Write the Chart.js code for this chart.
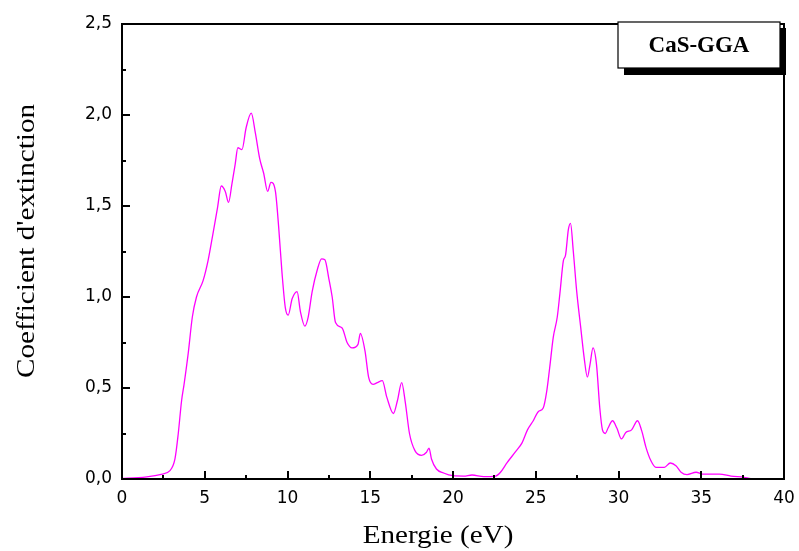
<!DOCTYPE html>
<html>
<head>
  <title>Coefficient d'extinction CaS-GGA</title>
  <style>
    html, body { margin: 0; padding: 0; background: #fff; }
    #wrap { width: 799px; height: 551px; }
  </style>
</head>
<body>
<div id="wrap">
  <canvas id="extChart"></canvas>
</div>

<script src="https://cdn.jsdelivr.net/npm/chart.js"></script>
<script>
  // energie (eV) et coefficient d'extinction k
  const energy = [0, 1, 1.5, 2, 2.3, 2.9, 3.2, 3.4, 3.6, 3.75, 4.0, 4.25, 4.5, 4.9, 5.2, 5.5, 5.77, 6.0, 6.24, 6.44,
    6.64, 6.84, 7.0, 7.25, 7.5, 7.81, 8.06, 8.32, 8.56, 8.8, 9.0, 9.27, 9.47, 9.67, 9.87, 10.04, 10.28, 10.58, 10.78, 11.05,
    11.25, 11.49, 11.8, 12.06, 12.26, 12.5, 12.7, 12.9, 13.3, 13.6, 13.9, 14.26, 14.4, 14.68, 14.9, 15.17, 15.43, 15.73, 16.0, 16.4,
    16.64, 16.9, 17.12, 17.37, 17.7, 18.1, 18.4, 18.55, 18.7, 19.0, 19.43, 20.0, 20.65, 21.15, 21.86, 22.57, 22.87, 23.27, 23.78, 24.18,
    24.5, 24.85, 25.15, 25.45, 25.66, 25.84, 26.06, 26.3, 26.46, 26.67, 26.8, 26.97, 27.1, 27.27, 27.47, 27.72, 27.92, 28.12, 28.28, 28.46,
    28.67, 28.87, 29.03, 29.2, 29.37, 29.64, 29.9, 30.18, 30.44, 30.79, 31.15, 31.4, 31.66, 31.96, 32.26, 32.77, 33.13, 33.47, 33.78, 34.14,
    34.69, 35.09, 36.1, 36.8, 37.6, 38.0, 40];
  const kValues = [0.003, 0.008, 0.012, 0.018, 0.024, 0.046, 0.11, 0.25, 0.43, 0.52, 0.69, 0.89, 1.0, 1.09, 1.2, 1.35, 1.49, 1.61, 1.58, 1.52,
    1.62, 1.73, 1.82, 1.81, 1.93, 2.01, 1.90, 1.76, 1.68, 1.58, 1.63, 1.58, 1.38, 1.13, 0.94, 0.90, 0.99, 1.03, 0.92, 0.84,
    0.89, 1.03, 1.15, 1.21, 1.205, 1.10, 1.0, 0.86, 0.83, 0.75, 0.72, 0.74, 0.80, 0.705, 0.56, 0.52, 0.53, 0.54, 0.45, 0.36,
    0.43, 0.53, 0.42, 0.25, 0.156, 0.13, 0.147, 0.17, 0.11, 0.055, 0.033, 0.018, 0.016, 0.022, 0.013, 0.016, 0.037, 0.09, 0.15, 0.20,
    0.27, 0.32, 0.37, 0.39, 0.48, 0.61, 0.78, 0.89, 1.02, 1.2, 1.23, 1.37, 1.405, 1.25, 1.035, 0.83, 0.67, 0.56, 0.63, 0.72,
    0.63, 0.39, 0.27, 0.25, 0.28, 0.32, 0.28, 0.22, 0.256, 0.27, 0.32, 0.266, 0.174, 0.10, 0.064, 0.064, 0.088, 0.073, 0.037, 0.024,
    0.037, 0.027, 0.027, 0.016, 0.009, 0.002, 0];

  const xMin = 0, xMax = 40, xStep = 5;
  const yMin = 0, yMax = 2.5, yStep = 0.5;
  const seriesName = 'CaS-GGA';
  const xTitle = 'Energie (eV)';
  const yTitle = "Coefficient d'extinction";

  const points = energy.map((e, i) => ({ x: e, y: kValues[i] }));

  const serif = '"Liberation Serif", "Times New Roman", serif';

  // texte serif un peu elargi horizontalement
  function wideText(ctx, text, x, y, angle) {
    ctx.save();
    ctx.translate(x, y);
    ctx.rotate(angle);
    ctx.scale(1.12, 1);
    ctx.fillText(text, 0, 0);
    ctx.restore();
  }

  // cadre, graduations vers l'interieur, titres d'axes et cartouche
  const framePlugin = {
    id: 'frame',
    afterDraw(chart) {
      const ctx = chart.ctx;
      const a = chart.chartArea;
      const xs = chart.scales.x, ys = chart.scales.y;
      ctx.save();
      ctx.strokeStyle = '#000';
      ctx.lineWidth = 2;
      ctx.strokeRect(a.left, a.top, a.right - a.left, a.bottom - a.top);

      ctx.beginPath();
      for (let v = xMin; v <= xMax + 1e-9; v += xStep / 2) {
        const px = Math.round(xs.getPixelForValue(v));
        const major = Math.abs(v / xStep - Math.round(v / xStep)) < 1e-6;
        ctx.moveTo(px, a.bottom);
        ctx.lineTo(px, a.bottom - (major ? 8 : 4));
      }
      for (let v = yMin; v <= yMax + 1e-9; v += yStep / 2) {
        const py = Math.round(ys.getPixelForValue(v));
        const major = Math.abs(v / yStep - Math.round(v / yStep)) < 1e-6;
        ctx.moveTo(a.left, py);
        ctx.lineTo(a.left + (major ? 8 : 4), py);
      }
      ctx.stroke();

      // titres des axes
      ctx.fillStyle = '#000';
      ctx.font = '26px ' + serif;
      ctx.textAlign = 'center';
      ctx.textBaseline = 'middle';
      wideText(ctx, xTitle, a.left + 316, a.bottom + 57, 0);
      wideText(ctx, yTitle, 27, a.top + 217, -Math.PI / 2);

      // cartouche avec ombre
      const bx = a.right - 166, by = a.top - 2, bw = 162, bh = 46;
      ctx.fillStyle = '#000';
      ctx.fillRect(bx + 6, by + 6, bw, bh + 1);
      ctx.fillStyle = '#fff';
      ctx.fillRect(bx, by, bw, bh);
      ctx.lineWidth = 1.2;
      ctx.strokeRect(bx, by, bw, bh);
      ctx.fillStyle = '#000';
      ctx.font = 'bold 23px ' + serif;
      ctx.fillText(seriesName, bx + bw / 2, by + bh / 2 + 1);
      ctx.restore();
    }
  };

  const tickFont = { family: '"DejaVu Sans", sans-serif', size: 17 };

  new Chart(document.getElementById('extChart'), {
    type: 'line',
    data: {
      datasets: [{
        label: seriesName,
        data: points,
        borderColor: '#ff00ff',
        borderWidth: 1.3,
        pointRadius: 0,
        fill: false,
        cubicInterpolationMode: 'monotone'
      }]
    },
    options: {
      responsive: true,
      maintainAspectRatio: false,
      animation: false,
      layout: { padding: { left: 0, right: 15, top: 24, bottom: 0 } },
      plugins: {
        legend: { display: false },
        tooltip: { enabled: false }
      },
      scales: {
        x: {
          type: 'linear',
          min: xMin,
          max: xMax,
          grid: { display: false, drawTicks: false },
          border: { display: false },
          ticks: {
            stepSize: xStep,
            color: '#000',
            font: tickFont,
            padding: 9,
            maxRotation: 0,
            callback: v => String(v)
          },
          afterFit: s => { s.height = 72; s.paddingLeft = 0; s.paddingRight = 0; }
        },
        y: {
          type: 'linear',
          min: yMin,
          max: yMax,
          grid: { display: false, drawTicks: false },
          border: { display: false },
          ticks: {
            stepSize: yStep,
            color: '#000',
            font: tickFont,
            padding: 10,
            callback: v => v.toFixed(1).replace('.', ',')
          },
          afterFit: s => { s.width = 122; s.paddingTop = 0; s.paddingBottom = 0; }
        }
      }
    },
    plugins: [framePlugin]
  });
</script>
</body>
</html>
